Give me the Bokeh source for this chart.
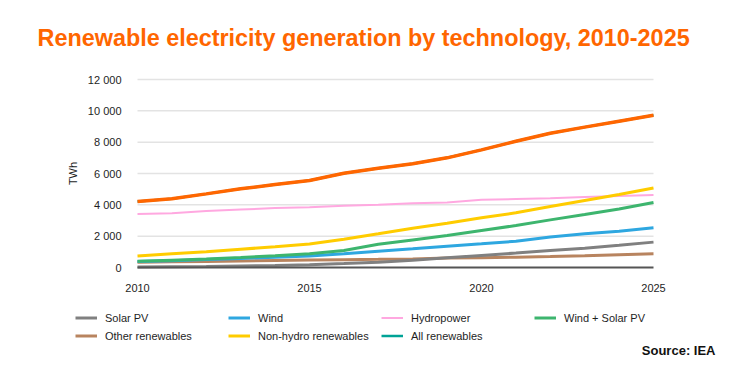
import math
from bokeh.plotting import figure
from bokeh.models import (ColumnDataSource, Legend, LegendItem, Label, Range1d)
from bokeh.core.properties import value
from bokeh.embed import file_html
from bokeh.resources import INLINE

# ---- data ----
years = list(range(2010, 2026))
solar_pv = [30, 50, 70, 100, 130, 170, 250, 340, 470, 620, 770, 920, 1085, 1230, 1420, 1620]
wind = [380, 430, 510, 580, 660, 730, 870, 1030, 1190, 1360, 1510, 1680, 1940, 2150, 2320, 2530]
hydropower = [3420, 3470, 3600, 3700, 3790, 3840, 3940, 4000, 4100, 4150, 4320, 4370, 4420, 4500, 4560, 4620]
wind_solar = [400, 470, 540, 640, 750, 880, 1090, 1480, 1760, 2040, 2360, 2680, 3040, 3380, 3740, 4150]
other_ren = [340, 360, 390, 420, 450, 480, 500, 520, 550, 600, 620, 660, 700, 745, 810, 870]
non_hydro = [730, 870, 1000, 1170, 1320, 1500, 1800, 2150, 2510, 2830, 3170, 3490, 3890, 4280, 4660, 5080]
all_ren = [4210, 4390, 4700, 5020, 5300, 5550, 6020, 6330, 6620, 7000, 7510, 8060, 8570, 8960, 9340, 9720]

y_ticks = [0, 2000, 4000, 6000, 8000, 10000, 12000]
y_tick_labels = ["0", "2 000", "4 000", "6 000", "8 000", "10 000", "12 000"]
x_ticks = [2010, 2015, 2020, 2025]
x_tick_labels = ["2010", "2015", "2020", "2025"]

legend_labels = ["Solar PV", "Wind", "Hydropower", "Wind + Solar PV",
                 "Other renewables", "Non-hydro renewables", "All renewables"]

FONT = "Liberation Sans"
ORANGE = "#FF6600"
TEXT = "#1E1E1E"
C_SOLAR, C_WIND, C_HYDRO, C_WS = "#808080", "#2EA7E0", "#FFA8E0", "#3DB56E"
C_OTHER, C_NH, C_ALL_LEG = "#B8845F", "#FFCC00", "#00A396"

# ---- layout geometry (pixels) ----
W, H = 730, 365
PX_X0, PX_X1 = 137, 653      # plot area left/right
PX_Y0, PX_Y1 = 267, 79       # plot area bottom/top (from top of canvas)
x_lo, x_hi = years[0], years[-1]
y_lo, y_hi = y_ticks[0], y_ticks[-1]
sx = (PX_X1 - PX_X0) / (x_hi - x_lo)
sy = (PX_Y0 - PX_Y1) / (y_hi - y_lo)
x_range = Range1d(x_lo - PX_X0 / sx, x_hi + (W - PX_X1) / sx)
y_range = Range1d(y_lo - (H - PX_Y0) / sy, y_hi + PX_Y1 / sy)

src = ColumnDataSource(dict(year=years, solar=solar_pv, wind=wind, hydro=hydropower,
                            ws=wind_solar, other=other_ren, nonhydro=non_hydro, all=all_ren))
grid_src = ColumnDataSource(dict(x0=[x_lo] * (len(y_ticks) - 1), x1=[x_hi] * (len(y_ticks) - 1),
                                 y=y_ticks[1:]))
base_src = ColumnDataSource(dict(x0=[x_lo], x1=[x_hi], y=[y_ticks[0]]))

p = figure(width=W, height=H, output_backend="svg", toolbar_location=None,
           x_range=x_range, y_range=y_range, x_axis_type=None, y_axis_type=None,
           min_border=0)
p.outline_line_color = None
p.background_fill_color = "white"
p.border_fill_color = "white"

# gridlines over the data span
p.segment(x0="x0", x1="x1", y0="y", y1="y", source=grid_src,
          line_color="#E3E3E3", line_width=1.5)

# tick labels
p.text(x=[x_lo] * len(y_ticks), y=y_ticks, text=y_tick_labels, x_offset=-16,
       text_align="right", text_baseline="middle", text_font=value(FONT),
       text_font_size=value("11px"), text_color=TEXT)
p.text(x=x_ticks, y=[y_lo] * len(x_ticks), text=x_tick_labels, y_offset=20,
       text_align="center", text_baseline="middle", text_font=value(FONT),
       text_font_size=value("11px"), text_color=TEXT)

# lines
r_hydro = p.line("year", "hydro", source=src, color=C_HYDRO, line_width=2)
r_other = p.line("year", "other", source=src, color=C_OTHER, line_width=3)
r_solar = p.line("year", "solar", source=src, color=C_SOLAR, line_width=3)
r_wind = p.line("year", "wind", source=src, color=C_WIND, line_width=3)
r_ws = p.line("year", "ws", source=src, color=C_WS, line_width=3)
r_nh = p.line("year", "nonhydro", source=src, color=C_NH, line_width=3)
# legend swatch colour for "All renewables" (teal in the reference legend), hidden under orange line
r_all_leg = p.line("year", "all", source=src, color=C_ALL_LEG, line_width=2.5)
r_all = p.line("year", "all", source=src, color=ORANGE, line_width=3.5)

# dark baseline at zero
p.segment(x0="x0", x1="x1", y0="y", y1="y", source=base_src,
          line_color="#555555", line_width=2)

items = [LegendItem(label=l, renderers=[r]) for l, r in zip(
    legend_labels, [r_solar, r_wind, r_hydro, r_ws, r_other, r_nh, r_all_leg])]
legend = Legend(items=items, location=(75, 21), orientation="horizontal", ncols=4,
                glyph_width=22, glyph_height=17, label_height=17, label_width=122,
                label_standoff=8, spacing=1, padding=0, margin=0,
                label_text_font=FONT, label_text_font_size="11px",
                label_text_color=TEXT, border_line_color=None,
                background_fill_alpha=0)
p.add_layout(legend, "center")

title = Label(x=37, y=H - 37, x_units="screen", y_units="screen",
              text="Renewable electricity generation by technology, 2010-2025",
              text_font=FONT, text_font_size="23.4px", text_font_style="bold",
              text_color=ORANGE, text_baseline="middle", text_align="left")
p.add_layout(title)

ylab = Label(x=72, y=H - 173, x_units="screen", y_units="screen", text="TWh",
             angle=math.pi / 2, text_font=FONT, text_font_size="11px",
             text_color=TEXT, text_baseline="middle", text_align="center")
p.add_layout(ylab)

source = Label(x=715, y=15, x_units="screen", y_units="screen", text="Source: IEA",
               text_font=FONT, text_font_size="13px", text_font_style="bold",
               text_color="#111111", text_baseline="middle", text_align="right")
p.add_layout(source)

open("out.html", "w").write(file_html(p, INLINE))
